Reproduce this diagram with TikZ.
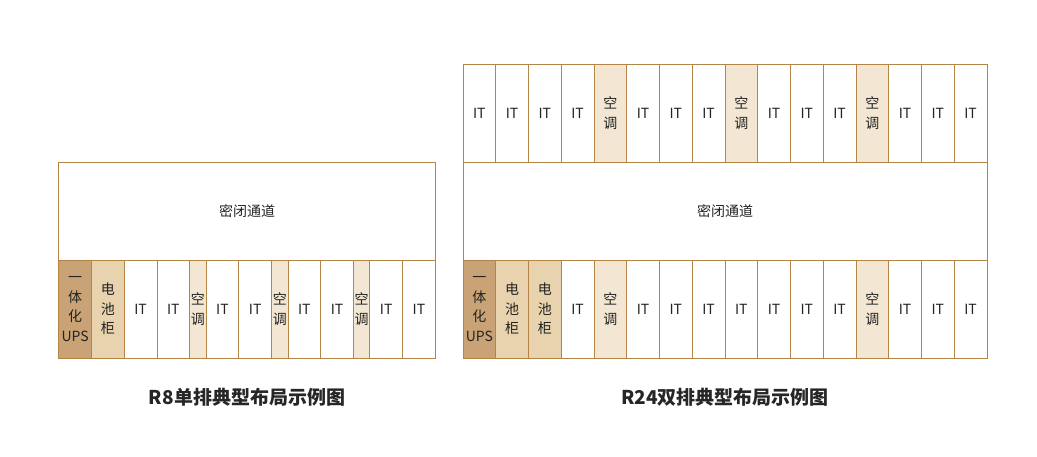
\documentclass[tikz,border=0pt]{standalone}
\usepackage{fontspec}
\setmainfont{Noto Sans CJK SC}
\usetikzlibrary{positioning}
\definecolor{edgebrown}{RGB}{180,133,70}
\definecolor{upsfill}{RGB}{201,163,118}
\definecolor{batfill}{RGB}{233,211,174}
\definecolor{acfill}{RGB}{243,231,211}
\definecolor{textgray}{RGB}{35,35,35}
\begin{document}
\begin{tikzpicture}[x=1pt, y=-1pt, node distance=0pt,
    font=\fontsize{14}{19.5}\selectfont, text=textgray,
    cell/.style={draw=edgebrown, line width=0.9pt, outer sep=0pt, inner sep=0pt, fill=white,
      minimum height=98pt, minimum width=32.75pt, align=center},
    itcell/.style={cell},
    accell/.style={cell, fill=acfill},
    narrowac/.style={accell, minimum width=16.375pt},
    batcell/.style={cell, fill=batfill},
    upscell/.style={cell, fill=upsfill},
    aisle/.style={cell, minimum width=#1},
    caption/.style={font=\fontsize{19}{22}\selectfont\bfseries, text=black!85}]
\useasboundingbox (0,0) rectangle (1037,456);

% R8 single row
\node[aisle=376.6pt, anchor=north west] (aisleA) at (58.7,162) {密闭通道};
\node[upscell, anchor=north west] (a1) at (aisleA.south west) {一\\体\\化\\UPS};
\foreach \s/\t [count=\i from 2, remember=\i as \j (initially 1)] in
    {batcell/{电\\池\\柜}, itcell/IT, itcell/IT, narrowac/{空\\调}, itcell/IT, itcell/IT,
     narrowac/{空\\调}, itcell/IT, itcell/IT, narrowac/{空\\调}, itcell/IT, itcell/IT}
  \node[\s, right=of a\j] (a\i) {\t};

% R24 double row
\node[aisle=524pt, anchor=north west] (aisleB) at (463,162) {密闭通道};
\node[itcell, anchor=south west] (b1) at (aisleB.north west) {IT};
\foreach \s/\t [count=\i from 2, remember=\i as \j (initially 1)] in
    {itcell/IT, itcell/IT, itcell/IT, accell/{空\\调}, itcell/IT, itcell/IT, itcell/IT,
     accell/{空\\调}, itcell/IT, itcell/IT, itcell/IT, accell/{空\\调}, itcell/IT, itcell/IT, itcell/IT}
  \node[\s, right=of b\j] (b\i) {\t};
\node[upscell, anchor=north west] (c1) at (aisleB.south west) {一\\体\\化\\UPS};
\foreach \s/\t [count=\i from 2, remember=\i as \j (initially 1)] in
    {batcell/{电\\池\\柜}, batcell/{电\\池\\柜}, itcell/IT, accell/{空\\调}, itcell/IT, itcell/IT,
     itcell/IT, itcell/IT, itcell/IT, itcell/IT, itcell/IT, accell/{空\\调}, itcell/IT, itcell/IT, itcell/IT}
  \node[\s, right=of c\j] (c\i) {\t};

% captions
\node[caption] (capA) at (aisleA |- 0,397) {R8单排典型布局示例图};
\node[caption] (capB) at (aisleB |- 0,397) {R24双排典型布局示例图};
\end{tikzpicture}
\end{document}
